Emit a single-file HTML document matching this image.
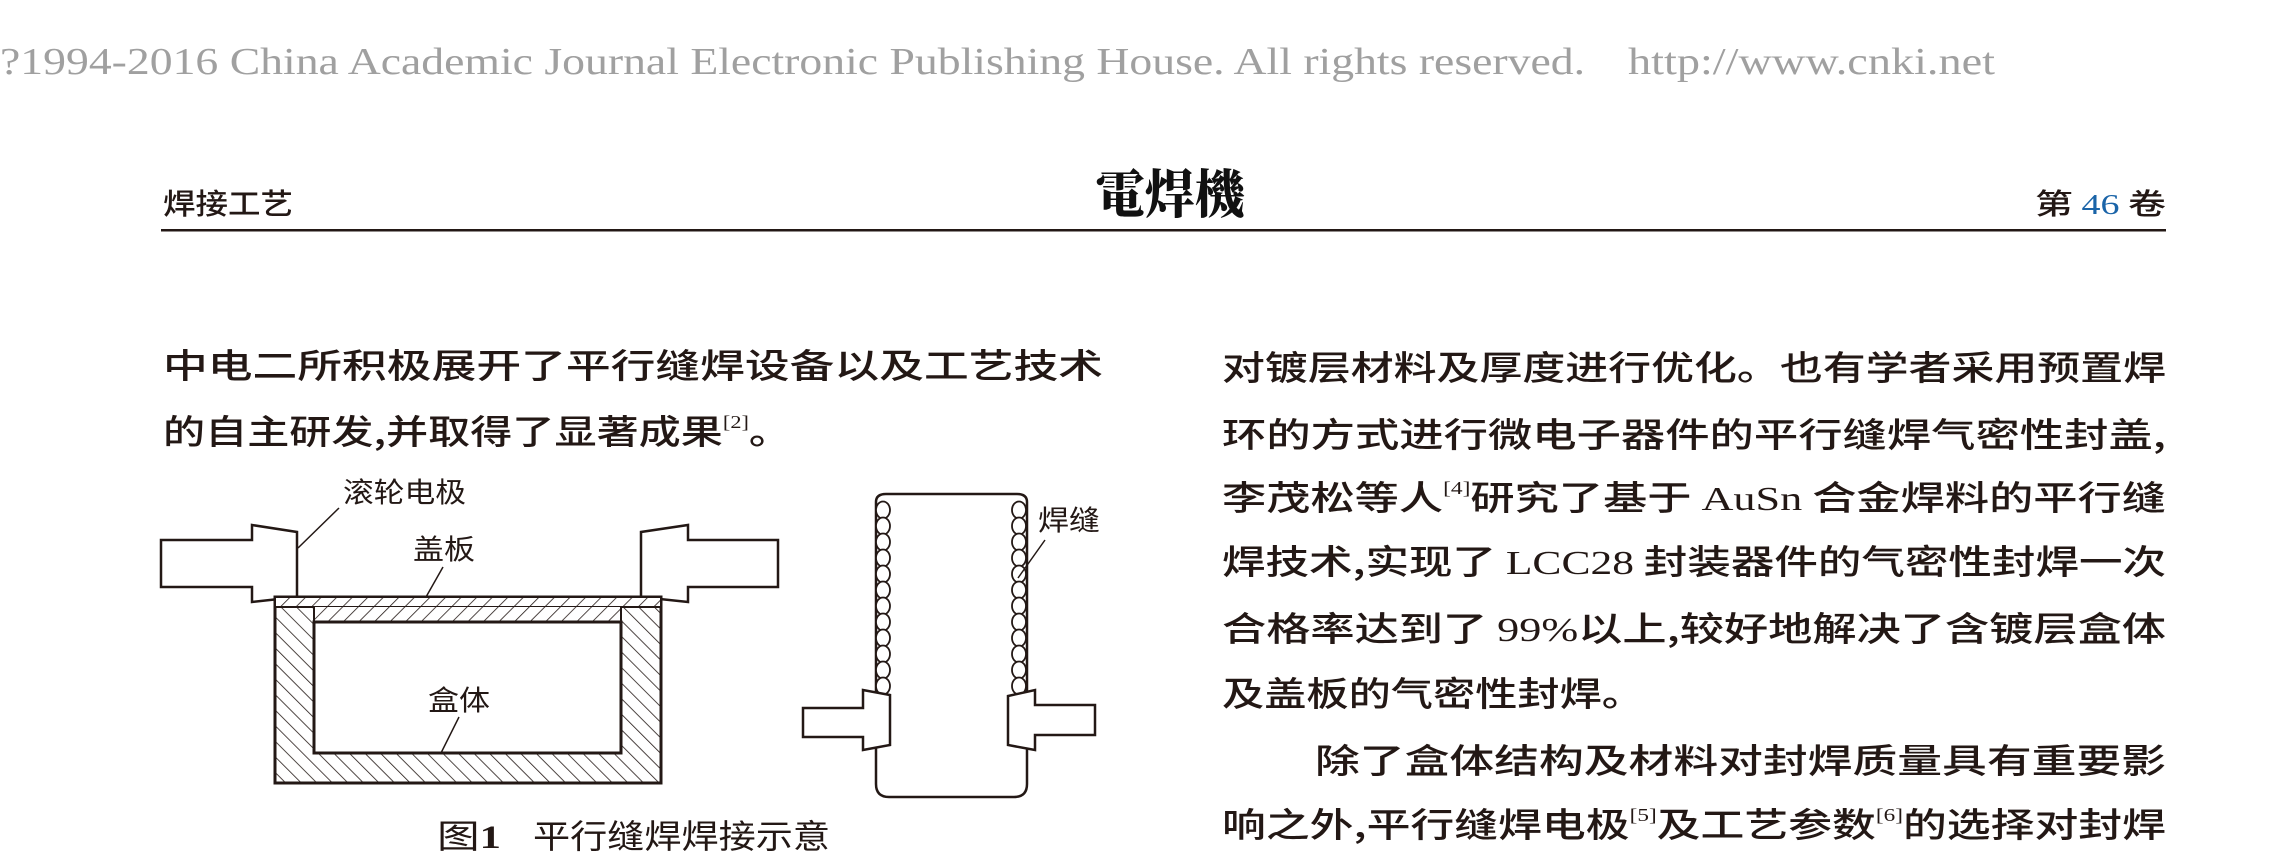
<!DOCTYPE html>
<html><head><meta charset="utf-8"><style>
html,body{margin:0;padding:0;background:#fff;}
svg{display:block;}
.cn{font-family:"Noto Sans CJK SC","WenQuanYi Zen Hei",sans-serif;}
.se{font-family:"Liberation Serif",serif;}
</style></head><body>
<svg width="2291" height="858" viewBox="0 0 2291 858" xmlns="http://www.w3.org/2000/svg">
<defs>
<pattern id="h1" patternUnits="userSpaceOnUse" width="11" height="11" patternTransform="rotate(45)">
<line x1="0" y1="0" x2="0" y2="11" stroke="#231815" stroke-width="1.6"/></pattern>
<pattern id="h2" patternUnits="userSpaceOnUse" width="11" height="11" patternTransform="rotate(-45)">
<line x1="0" y1="0" x2="0" y2="11" stroke="#231815" stroke-width="1.6"/></pattern>
</defs>
<rect width="2291" height="858" fill="#fff"/>
<!-- watermark -->
<text x="0" y="74" class="se" font-size="38" fill="#a0a0a0" textLength="1585" lengthAdjust="spacingAndGlyphs">?1994-2016 China Academic Journal Electronic Publishing House. All rights reserved.</text>
<text x="1628" y="74" class="se" font-size="38" fill="#a0a0a0" textLength="367" lengthAdjust="spacingAndGlyphs">http://www.cnki.net</text>
<!-- header -->
<text x="163" y="214" class="cn" font-size="29" font-weight="500" fill="#231815" textLength="130" lengthAdjust="spacingAndGlyphs">焊接工艺</text>
<text x="1095" y="213" font-family="Noto Serif CJK SC,serif" font-weight="900" font-size="52" fill="#111" textLength="150" lengthAdjust="spacingAndGlyphs">電焊機</text>
<text x="2035" y="214" class="cn" font-size="29" font-weight="500" fill="#231815" textLength="131" lengthAdjust="spacingAndGlyphs">第 <tspan class="se" fill="#1a64a8">46</tspan> 卷</text>
<rect x="161" y="229" width="2005" height="2.5" fill="#231815"/>
<!-- body text -->
<g class="cn" font-size="34" font-weight="500" fill="#231815">
<text x="163" y="378" textLength="940" lengthAdjust="spacingAndGlyphs">中电二所积极展开了平行缝焊设备以及工艺技术</text>
<text x="163" y="444" textLength="628" lengthAdjust="spacingAndGlyphs">的自主研发,并取得了显著成果<tspan class="se" font-size="18" dy="-16">[2]</tspan><tspan dy="16">。</tspan></text>
<text x="1222" y="380" textLength="944" lengthAdjust="spacingAndGlyphs">对镀层材料及厚度进行优化。也有学者采用预置焊</text>
<text x="1222" y="447" textLength="944" lengthAdjust="spacingAndGlyphs">环的方式进行微电子器件的平行缝焊气密性封盖,</text>
<text x="1222" y="510" textLength="944" lengthAdjust="spacingAndGlyphs">李茂松等人<tspan class="se" font-size="18" dy="-16">[4]</tspan><tspan dy="16">研究了基于 </tspan><tspan class="se">AuSn</tspan> 合金焊料的平行缝</text>
<text x="1222" y="574" textLength="944" lengthAdjust="spacingAndGlyphs">焊技术,实现了 <tspan class="se">LCC28</tspan> 封装器件的气密性封焊一次</text>
<text x="1222" y="641" textLength="944" lengthAdjust="spacingAndGlyphs">合格率达到了 <tspan class="se">99%</tspan>以上,较好地解决了含镀层盒体</text>
<text x="1222" y="706" textLength="422" lengthAdjust="spacingAndGlyphs">及盖板的气密性封焊。</text>
<text x="1315" y="773" textLength="851" lengthAdjust="spacingAndGlyphs">除了盒体结构及材料对封焊质量具有重要影</text>
<text x="1222" y="837" textLength="944" lengthAdjust="spacingAndGlyphs">响之外,平行缝焊电极<tspan class="se" font-size="18" dy="-16">[5]</tspan><tspan dy="16">及工艺参数</tspan><tspan class="se" font-size="18" dy="-16">[6]</tspan><tspan dy="16">的选择对封焊</tspan></text>
</g>
<!-- left figure -->
<g stroke="#231815" fill="#fff" stroke-width="2.5" stroke-linejoin="miter">
<polygon points="161,540 252,540 252,525 297,532 297,597 252,602 252,587 161,587"/>
<polygon points="778,540 688,540 688,525 641,532 641,597 688,602 688,587 778,587"/>
<rect x="275" y="597" width="386" height="186" fill="url(#h2)" stroke-width="3"/>
<rect x="275" y="597" width="386" height="10" fill="#fff" stroke-width="2"/>
<rect x="275" y="597" width="386" height="10" fill="url(#h1)" stroke-width="2"/>
<rect x="314" y="607" width="307" height="15" fill="#fff" stroke="none"/>
<rect x="314" y="607" width="307" height="15" fill="url(#h1)" stroke="none"/>
<line x1="314" y1="607" x2="314" y2="622" stroke-width="2"/>
<line x1="621" y1="607" x2="621" y2="622" stroke-width="2"/>
<rect x="314" y="622" width="307" height="131" stroke-width="3"/>
<g fill="none" stroke-width="1.5">
<line x1="339" y1="508" x2="298" y2="548"/>
<line x1="443" y1="567" x2="426" y2="597"/>
<line x1="459" y1="717" x2="441" y2="753"/>
</g>
</g>
<g class="cn" font-size="28" fill="#231815">
<text x="343" y="502" textLength="123" lengthAdjust="spacingAndGlyphs">滚轮电极</text>
<text x="413" y="559" textLength="62" lengthAdjust="spacingAndGlyphs">盖板</text>
<text x="428" y="710" textLength="62" lengthAdjust="spacingAndGlyphs">盒体</text>
<text x="1038" y="530" textLength="62" lengthAdjust="spacingAndGlyphs">焊缝</text>
</g>
<!-- right figure -->
<g stroke="#231815" fill="#fff" stroke-width="2.5">
<path d="M876,502 Q876,494 886,494 L1017,494 Q1027,494 1027,502 L1027,784 Q1027,797 1014,797 L889,797 Q876,797 876,784 Z"/>
<g fill="#fff" stroke-width="1.8">
<ellipse cx="883" cy="510" rx="7" ry="8.5"/><ellipse cx="883" cy="526" rx="7" ry="8.5"/><ellipse cx="883" cy="542" rx="7" ry="8.5"/><ellipse cx="883" cy="558" rx="7" ry="8.5"/><ellipse cx="883" cy="574" rx="7" ry="8.5"/><ellipse cx="883" cy="590" rx="7" ry="8.5"/><ellipse cx="883" cy="606" rx="7" ry="8.5"/><ellipse cx="883" cy="622" rx="7" ry="8.5"/><ellipse cx="883" cy="638" rx="7" ry="8.5"/><ellipse cx="883" cy="654" rx="7" ry="8.5"/><ellipse cx="883" cy="670" rx="7" ry="8.5"/><ellipse cx="883" cy="686" rx="7" ry="8.5"/>
<ellipse cx="1019" cy="510" rx="7" ry="8.5"/><ellipse cx="1019" cy="526" rx="7" ry="8.5"/><ellipse cx="1019" cy="542" rx="7" ry="8.5"/><ellipse cx="1019" cy="558" rx="7" ry="8.5"/><ellipse cx="1019" cy="574" rx="7" ry="8.5"/><ellipse cx="1019" cy="590" rx="7" ry="8.5"/><ellipse cx="1019" cy="606" rx="7" ry="8.5"/><ellipse cx="1019" cy="622" rx="7" ry="8.5"/><ellipse cx="1019" cy="638" rx="7" ry="8.5"/><ellipse cx="1019" cy="654" rx="7" ry="8.5"/><ellipse cx="1019" cy="670" rx="7" ry="8.5"/><ellipse cx="1019" cy="686" rx="7" ry="8.5"/>
</g>
<polygon points="803,708 863,708 863,690 890,695 890,745 863,750 863,737 803,737"/>
<polygon points="1095,705 1035,705 1035,690 1008,696 1008,745 1035,750 1035,735 1095,735"/>
<line x1="1045" y1="540" x2="1018" y2="578" stroke-width="1.5"/>
</g>
<!-- caption -->
<text x="437" y="848" class="cn" font-size="33" fill="#231815" textLength="64" lengthAdjust="spacingAndGlyphs">图<tspan class="se" font-weight="bold">1</tspan></text>
<text x="533" y="848" class="cn" font-size="33" fill="#231815" textLength="297" lengthAdjust="spacingAndGlyphs">平行缝焊焊接示意</text>
</svg>
</body></html>
